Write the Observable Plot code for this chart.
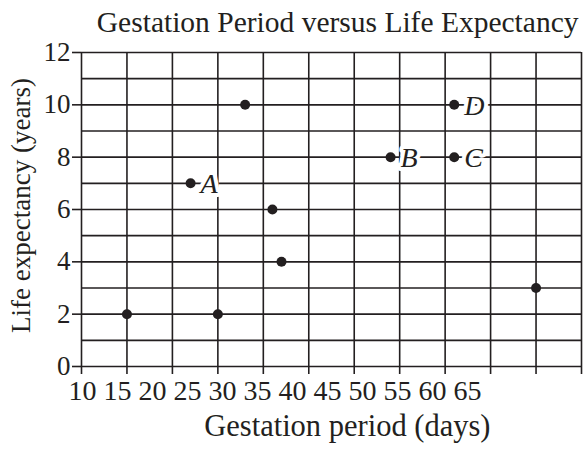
<!DOCTYPE html>
<html>
<head>
<meta charset="utf-8">
<script src="https://cdn.jsdelivr.net/npm/d3@7"></script>
<script src="https://cdn.jsdelivr.net/npm/@observablehq/plot@0.6"></script>
<style>
  html, body { margin: 0; padding: 0; background: #fff; }
  svg, svg text, svg g { font-family: "Liberation Serif", "Times New Roman", serif !important; }
</style>
</head>
<body>
<div id="chart"></div>
<script>
const title = "Gestation Period versus Life Expectancy";
const xLabel = "Gestation period (days)";
const yLabel = "Life expectancy (years)";
const xTickValues = [10, 15, 20, 25, 30, 35, 40, 45, 50, 55, 60, 65];
const xTickLabels = ["10", "15", "20", "25", "30", "35", "40", "45", "50", "55", "60", "65"];
const yTickValues = [0, 2, 4, 6, 8, 10, 12];
const yGridValues = [0, 1, 2, 3, 4, 5, 6, 7, 8, 9, 10, 11, 12];
const gestation = [15, 25, 22, 28, 31, 32, 44, 51, 51, 60];
const lifeExpectancy = [2, 2, 7, 10, 6, 4, 8, 8, 10, 3];
const pointLabels = ["", "", "A", "", "", "", "B", "C", "D", ""];

const data = gestation.map((g, i) => ({g, life: lifeExpectancy[i], label: pointLabels[i]}));
const ink = "#231f20";
const serif = "Liberation Serif, serif";

const chart = Plot.plot({
  width: 583,
  height: 449,
  marginLeft: 81,
  marginRight: 2,
  marginTop: 52,
  marginBottom: 83,
  style: {fontFamily: serif, background: "#fff", color: ink},
  x: {domain: [10, 65]},
  y: {domain: [0, 12]},
  marks: [
    Plot.gridX(xTickValues, {stroke: ink, strokeOpacity: 1, strokeWidth: 1.6}),
    Plot.gridY(yGridValues, {stroke: ink, strokeOpacity: 1, strokeWidth: 1.6}),
    Plot.axisX(xTickValues, {tickSize: 8, tickFormat: () => "", label: null, stroke: ink, strokeWidth: 1.6}),
    Plot.axisY(yTickValues, {tickSize: 9, tickPadding: 2, label: null, fontSize: 27, fontFamily: serif, stroke: ink, strokeWidth: 1.6, fill: ink}),
    Plot.text([xTickLabels.join(" ")], {frameAnchor: "bottom-left", textAnchor: "start", lineAnchor: "middle", dx: -13, dy: 25, fontSize: 28, fontFamily: serif, fill: ink}),
    Plot.text([xLabel], {frameAnchor: "bottom-right", textAnchor: "end", lineAnchor: "middle", dx: -91, dy: 60, fontSize: 30.5, fontFamily: serif, fill: ink}),
    Plot.text([yLabel], {frameAnchor: "left", textAnchor: "middle", lineAnchor: "middle", rotate: -90, dx: -60, dy: -4, fontSize: 27, fontFamily: serif, fill: ink}),
    Plot.text([title], {frameAnchor: "top-right", textAnchor: "end", lineAnchor: "middle", dx: -3, dy: -30, fontSize: 29.5, fontFamily: serif, fill: ink}),
    Plot.dot(data, {x: "g", y: "life", r: 5, fill: ink, stroke: null}),
    Plot.text(data.filter(d => d.label), {x: "g", y: "life", text: "label", textAnchor: "start", dx: 10, dy: 1, fontSize: 28, fontFamily: serif, fontStyle: "italic", fill: ink, stroke: "white", strokeWidth: 8, paintOrder: "stroke"})
  ]
});
document.getElementById("chart").append(chart);
</script>
</body>
</html>
